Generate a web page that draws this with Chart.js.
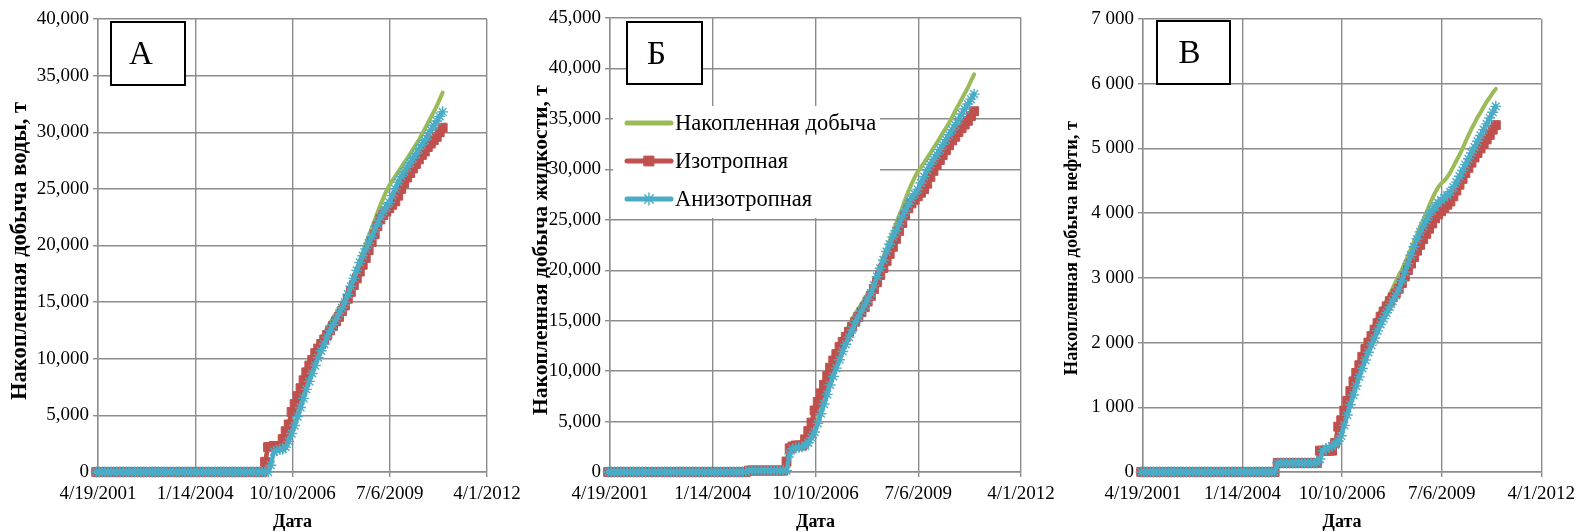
<!DOCTYPE html>
<html>
<head>
<meta charset="utf-8">
<script src="https://cdn.jsdelivr.net/npm/chart.js@4.4.1/dist/chart.umd.min.js"></script>
<style>
  html, body { margin: 0; padding: 0; background: #fff; }
  body { width: 1581px; height: 532px; position: relative; overflow: hidden; }
  canvas { position: absolute; top: 0; }
</style>
</head>
<body>
<canvas id="panelA" style="left:0px" width="530" height="532"></canvas>
<canvas id="panelB" style="left:525px" width="540" height="532"></canvas>
<canvas id="panelC" style="left:1058px" width="523" height="532"></canvas>
<script>
// Monthly report dates
const months = [
  '2001-04','2001-05','2001-06','2001-07','2001-08','2001-09','2001-10','2001-11','2001-12',
  '2002-01','2002-02','2002-03','2002-04','2002-05','2002-06','2002-07','2002-08','2002-09','2002-10','2002-11','2002-12',
  '2003-01','2003-02','2003-03','2003-04','2003-05','2003-06','2003-07','2003-08','2003-09','2003-10','2003-11','2003-12',
  '2004-01','2004-02','2004-03','2004-04','2004-05','2004-06','2004-07','2004-08','2004-09','2004-10','2004-11','2004-12',
  '2005-01','2005-02','2005-03','2005-04','2005-05','2005-06','2005-07','2005-08','2005-09','2005-10','2005-11','2005-12',
  '2006-01','2006-02','2006-03','2006-04','2006-05','2006-06','2006-07','2006-08','2006-09','2006-10','2006-11','2006-12',
  '2007-01','2007-02','2007-03','2007-04','2007-05','2007-06','2007-07','2007-08','2007-09','2007-10','2007-11','2007-12',
  '2008-01','2008-02','2008-03','2008-04','2008-05','2008-06','2008-07','2008-08','2008-09','2008-10','2008-11','2008-12',
  '2009-01','2009-02','2009-03','2009-04','2009-05','2009-06','2009-07','2009-08','2009-09','2009-10','2009-11','2009-12',
  '2010-01','2010-02','2010-03','2010-04','2010-05','2010-06','2010-07','2010-08','2010-09','2010-10','2010-11','2010-12',
  '2011-01'
];

const seriesNames = ['Накопленная добыча', 'Изотропная', 'Анизотропная'];

// А — cumulative water, t
const waterActual = [
  0,0,0,0,0,0,0,0,0,0, 0,0,0,0,0,0,0,0,0,0, 0,0,0,0,0,0,0,0,0,0, 0,0,0,0,0,0,0,0,0,0, 0,0,0,0,0,0,0,0,0,0,
  0,0,0,0,0,0,0,900,2200,2200,
  2300,2300,2300,2800,3300,3900,4600,5400,6200,7000,
  7800,8600,9300,10000,10600,11200,11700,12200,12700,13200,
  13600,14000,14400,14800,15200,15900,16600,17300,18000,18700,
  19400,20100,20800,21500,22200,22900,23600,24200,24800,25300,
  25700,26100,26500,26900,27300,27700,28100,28500,28900,29300,
  29800,30300,30800,31300,31800,32300,32900,33500
];
const waterIso = [
  0,0,0,0,0,0,0,0,0,0, 0,0,0,0,0,0,0,0,0,0, 0,0,0,0,0,0,0,0,0,0, 0,0,0,0,0,0,0,0,0,0, 0,0,0,0,0,0,0,0,0,0,
  0,0,0,0,0,0,0,900,2200,2200,
  2300,2300,2300,2900,3600,4200,5300,6000,6700,7400,
  8100,8800,9400,9900,10500,10900,11300,11700,12100,12500,
  12900,13300,13700,14200,14700,15300,15900,16500,17100,17700,
  18300,18900,19600,20300,21000,21700,22300,22700,23000,23300,
  23600,23900,24400,25000,25500,26000,26400,26800,27200,27600,
  28000,28300,28700,29000,29300,29600,30000,30400
];
const waterAniso = [
  0,0,0,0,0,0,0,0,0,0, 0,0,0,0,0,0,0,0,0,0, 0,0,0,0,0,0,0,0,0,0, 0,0,0,0,0,0,0,0,0,0, 0,0,0,0,0,0,0,0,0,0,
  0,0,0,0,0,0,0,0,0,600,
  1800,1900,2000,2000,2200,2700,3400,4100,4900,5700,
  6500,7300,8000,8700,9400,10100,10700,11300,11900,12500,
  13000,13500,14000,14500,15000,15700,16400,17100,17800,18500,
  19100,19700,20200,20800,21400,21900,22500,23000,23400,23800,
  24400,25000,25600,26100,26500,26900,27300,27700,28100,28500,
  28900,29300,29700,30200,30600,31000,31400,31800
];

// Б — cumulative liquid, t
const liquidActual = [
  0,0,0,0,0,0,0,0,0,0, 0,0,0,0,0,0,0,0,0,0, 0,0,0,0,0,0,0,0,0,0, 0,0,0,0,0,0,0,0,0,0,
  0,0,0,0,0,140,140,140,140,140,
  140,140,140,140,140,140,140,1040,2340,2530,
  2630,2630,2630,3130,3750,4550,5400,6360,7320,8280,
  9230,10170,11000,11830,12550,13260,13870,14480,15090,15690,
  16160,16650,17140,17640,18140,18940,19720,20530,21340,22150,
  22960,23770,24580,25390,26200,27010,27820,28520,29200,29760,
  30200,30660,31130,31620,32110,32600,33100,33600,34100,34600,
  35190,35780,36360,36940,37520,38090,38760,39420
];
const liquidIso = [
  0,0,0,0,0,0,0,0,0,0, 0,0,0,0,0,0,0,0,0,0, 0,0,0,0,0,0,0,0,0,0, 0,0,0,0,0,0,0,0,0,0,
  0,0,0,0,0,140,140,140,140,140,
  140,140,140,140,140,140,140,1040,2340,2530,
  2630,2630,2630,3230,4050,4900,6100,6950,7800,8650,
  9500,10330,11050,11680,12400,12900,13400,13900,14400,14900,
  15380,15860,16340,16900,17460,18130,18820,19520,20220,20920,
  21620,22320,23110,23900,24680,25460,26140,26620,26980,27330,
  27680,28030,28580,29260,29850,30440,30930,31420,31900,32380,
  32860,33230,33700,34070,34440,34810,35290,35760
];
const liquidAniso = [
  0,0,0,0,0,0,0,0,0,0, 0,0,0,0,0,0,0,0,0,0, 0,0,0,0,0,0,0,0,0,0, 0,0,0,0,0,0,0,0,0,0,
  0,0,0,0,0,140,140,140,140,140,
  140,140,140,140,140,140,140,140,1800,2300,
  2400,2450,2500,2600,2900,3400,3960,4820,5780,6740,
  7690,8630,9470,10300,11130,11950,12660,13370,14080,14780,
  15370,15960,16550,17140,17730,18520,19360,20190,21020,21850,
  22580,23300,23910,24600,25290,25870,26540,27100,27560,28000,
  28640,29280,29930,30500,30980,31470,31960,32450,32940,33430,
  33920,34410,34900,35490,35980,36470,36960,37450
];

// В — cumulative oil, t
const oilActual = [
  0,0,0,0,0,0,0,0,0,0, 0,0,0,0,0,0,0,0,0,0, 0,0,0,0,0,0,0,0,0,0, 0,0,0,0,0,0,0,0,0,0,
  0,0,0,0,0,140,140,140,140,140,
  140,140,140,140,140,140,140,140,140,330,
  330,330,330,330,450,650,800,960,1120,1280,
  1430,1570,1700,1830,1950,2060,2170,2280,2390,2490,
  2560,2650,2740,2840,2940,3040,3120,3230,3340,3450,
  3560,3670,3780,3890,4000,4110,4220,4320,4400,4460,
  4500,4560,4630,4720,4810,4900,5000,5100,5200,5300,
  5390,5480,5560,5640,5720,5790,5860,5920
];
const oilIso = [
  0,0,0,0,0,0,0,0,0,0, 0,0,0,0,0,0,0,0,0,0, 0,0,0,0,0,0,0,0,0,0, 0,0,0,0,0,0,0,0,0,0,
  0,0,0,0,0,140,140,140,140,140,
  140,140,140,140,140,140,140,140,140,330,
  330,330,330,330,450,700,800,950,1100,1250,
  1400,1530,1650,1780,1900,2000,2100,2200,2300,2400,
  2480,2560,2640,2700,2760,2830,2920,3020,3120,3220,
  3320,3420,3510,3600,3680,3760,3840,3920,3980,4030,
  4080,4130,4180,4260,4350,4440,4530,4620,4700,4780,
  4860,4930,5000,5070,5140,5210,5290,5360
];
const oilAniso = [
  0,0,0,0,0,0,0,0,0,0, 0,0,0,0,0,0,0,0,0,0, 0,0,0,0,0,0,0,0,0,0, 0,0,0,0,0,0,0,0,0,0,
  0,0,0,0,0,140,140,140,140,140,
  140,140,140,140,140,140,140,140,140,200,
  330,360,380,400,420,480,560,720,880,1040,
  1190,1330,1470,1600,1730,1850,1960,2070,2180,2280,
  2370,2460,2550,2640,2730,2820,2960,3090,3220,3350,
  3480,3600,3710,3800,3890,3970,4040,4100,4160,4200,
  4240,4280,4330,4400,4480,4570,4660,4750,4840,4930,
  5020,5110,5200,5290,5380,5470,5560,5650
];

// Axis ticks
const xTickLabels = ['4/19/2001', '1/14/2004', '10/10/2006', '7/6/2009', '4/1/2012'];
const yTicksWater = [0, 5000, 10000, 15000, 20000, 25000, 30000, 35000, 40000];
const yLabelsWater = ['0', '5,000', '10,000', '15,000', '20,000', '25,000', '30,000', '35,000', '40,000'];
const yTicksLiquid = [0, 5000, 10000, 15000, 20000, 25000, 30000, 35000, 40000, 45000];
const yLabelsLiquid = ['0', '5,000', '10,000', '15,000', '20,000', '25,000', '30,000', '35,000', '40,000', '45,000'];
const yTicksOil = [0, 1000, 2000, 3000, 4000, 5000, 6000, 7000];
const yLabelsOil = ['0', '1 000', '2 000', '3 000', '4 000', '5 000', '6 000', '7 000'];

const COLORS = { actual: '#9BBB59', iso: '#C0504D', aniso: '#4BACC6' };
const GRID = '#8c8c8c';
const SERIF = '"Liberation Serif", "Times New Roman", serif';

// Spreadsheet-style day number (1899-12-30 epoch)
function serialFromYMD(y, m, d) {
  return Date.UTC(y, m - 1, d) / 86400000 + 25569;
}
function serialFromMonth(s) {
  const [y, m] = s.split('-').map(Number);
  return serialFromYMD(y, m, 1);
}
function serialFromLabel(s) {
  const [m, d, y] = s.split('/').map(Number);
  return serialFromYMD(y, m, d);
}
const xTickValues = xTickLabels.map(serialFromLabel);
const monthSerials = months.map(serialFromMonth);

function points(values) {
  return values.map((v, i) => ({ x: monthSerials[i], y: v }));
}

function buildDatasets(actual, iso, aniso) {
  return [
    {
      label: seriesNames[0], data: points(actual), order: 2, clip: false,
      borderColor: COLORS.actual, backgroundColor: COLORS.actual,
      borderWidth: 4, pointRadius: 0, borderCapStyle: 'round', borderJoinStyle: 'round'
    },
    {
      label: seriesNames[1], data: points(iso), order: 1, clip: false,
      borderColor: COLORS.iso, backgroundColor: COLORS.iso,
      borderWidth: 4.5, pointStyle: 'rect', pointRadius: 6.3, pointBorderWidth: 1,
      pointBackgroundColor: COLORS.iso, pointBorderColor: COLORS.iso,
      borderCapStyle: 'round', borderJoinStyle: 'round'
    },
    {
      label: seriesNames[2], data: points(aniso), order: 0, clip: false,
      borderColor: COLORS.aniso, backgroundColor: COLORS.aniso,
      borderWidth: 4.5, pointStyle: 'star', pointRadius: 5.5, pointBorderWidth: 1.4,
      pointBackgroundColor: COLORS.aniso, pointBorderColor: COLORS.aniso,
      borderCapStyle: 'round', borderJoinStyle: 'round'
    }
  ];
}

// Letter tag in the upper-left corner of a panel
function letterPlugin(letter, box) {
  return {
    id: 'letterTag',
    afterDraw(chart) {
      const ctx = chart.ctx;
      ctx.save();
      ctx.fillStyle = '#fff';
      ctx.fillRect(box.x, box.y, box.w, box.h);
      ctx.strokeStyle = '#000';
      ctx.lineWidth = 2;
      ctx.strokeRect(box.x, box.y, box.w, box.h);
      ctx.fillStyle = '#000';
      ctx.font = '33px ' + SERIF;
      ctx.textAlign = 'center';
      ctx.textBaseline = 'middle';
      ctx.fillText(letter, box.x + box.w / 2 + box.dx, box.y + box.h / 2 + 2);
      ctx.restore();
    }
  };
}

// Rotated value-axis caption
function yCaptionPlugin(text, spec) {
  return {
    id: 'yCaption',
    afterDraw(chart) {
      const ctx = chart.ctx;
      ctx.save();
      ctx.translate(spec.x, spec.y);
      ctx.rotate(-Math.PI / 2);
      ctx.fillStyle = '#000';
      ctx.font = 'bold ' + spec.size + 'px ' + SERIF;
      ctx.textAlign = 'center';
      ctx.textBaseline = 'middle';
      ctx.fillText(text, 0, 0);
      ctx.restore();
    }
  };
}

// Series key with line samples and markers
function legendPlugin(area) {
  return {
    id: 'seriesKey',
    afterDraw(chart) {
      const ctx = chart.ctx;
      ctx.save();
      ctx.fillStyle = '#fff';
      ctx.fillRect(area.x, area.y, area.w, area.h);
      chart.data.datasets.forEach((ds, k) => {
        const y = area.rows[k];
        ctx.strokeStyle = ds.borderColor;
        ctx.lineWidth = 5;
        ctx.lineCap = 'round';
        ctx.beginPath();
        ctx.moveTo(area.lineX0, y);
        ctx.lineTo(area.lineX1, y);
        ctx.stroke();
        if (ds.pointRadius > 0) {
          ctx.fillStyle = ds.pointBackgroundColor;
          ctx.strokeStyle = ds.pointBorderColor;
          ctx.lineWidth = ds.pointBorderWidth;
          Chart.helpers.drawPoint(ctx, {
            pointStyle: ds.pointStyle, radius: ds.pointRadius * 1.1,
            borderWidth: ds.pointBorderWidth, rotation: 0
          }, (area.lineX0 + area.lineX1) / 2, y);
        }
        ctx.fillStyle = '#000';
        ctx.font = '22.5px ' + SERIF;
        ctx.textAlign = 'left';
        ctx.textBaseline = 'middle';
        ctx.fillText(ds.label, area.textX, y + 1);
      });
      ctx.restore();
    }
  };
}

function makePanel(canvasId, frame, datasets, yTicks, yLabels, extraPlugins) {
  const left = frame.canvasLeft;
  const width = document.getElementById(canvasId).width;
  return new Chart(document.getElementById(canvasId), {
    type: 'line',
    data: { datasets },
    options: {
      responsive: false,
      animation: false,
      events: [],
      layout: {
        padding: { left: 0, top: frame.plotTop, right: width - (frame.plotRight - left), bottom: 0 }
      },
      plugins: { legend: { display: false }, tooltip: { enabled: false } },
      scales: {
        x: {
          type: 'linear',
          min: xTickValues[0],
          max: xTickValues[xTickValues.length - 1],
          afterBuildTicks: s => { s.ticks = xTickValues.map(v => ({ value: v })); },
          afterFit: s => { s.height = 532 - frame.plotBottom; },
          ticks: {
            autoSkip: false, maxRotation: 0, padding: 6, color: '#000',
            font: { family: SERIF, size: 19 },
            callback: (v, i) => xTickLabels[i]
          },
          grid: { color: GRID, lineWidth: 1.4, tickLength: 5 },
          border: { color: GRID, width: 1.4 },
          title: {
            display: true, text: 'Дата', color: '#000',
            font: { family: SERIF, size: 18, weight: 'bold' },
            padding: { top: 0, bottom: -1 }
          }
        },
        y: {
          type: 'linear',
          min: yTicks[0],
          max: yTicks[yTicks.length - 1],
          afterBuildTicks: s => { s.ticks = yTicks.map(v => ({ value: v })); },
          afterFit: s => { s.width = frame.plotLeft - left; },
          ticks: {
            padding: 4, color: '#000',
            font: { family: SERIF, size: 19 },
            callback: (v, i) => yLabels[i]
          },
          grid: { color: GRID, lineWidth: 1.4, tickLength: 5 },
          border: { color: GRID, width: 1.4 }
        }
      },
      elements: { line: { tension: 0 } }
    },
    plugins: extraPlugins
  });
}

// Panel А — water
makePanel('panelA',
  { canvasLeft: 0, plotLeft: 98, plotRight: 487, plotTop: 19, plotBottom: 472 },
  buildDatasets(waterActual, waterIso, waterAniso),
  yTicksWater, yLabelsWater,
  [
    yCaptionPlugin('Накопленная добыча воды, т', { x: 20, y: 251, size: 22.5 }),
    letterPlugin('А', { x: 111, y: 22, w: 74, h: 63, dx: -7 })
  ]
);

// Panel Б — liquid
makePanel('panelB',
  { canvasLeft: 525, plotLeft: 610, plotRight: 1021, plotTop: 18, plotBottom: 472 },
  buildDatasets(liquidActual, liquidIso, liquidAniso),
  yTicksLiquid, yLabelsLiquid,
  [
    yCaptionPlugin('Накопленная добыча жидкости, т', { x: 541 - 525, y: 250, size: 21.5 }),
    letterPlugin('Б', { x: 627 - 525, y: 22, w: 75, h: 62, dx: -8 }),
    legendPlugin({
      x: 613 - 525, y: 106, w: 267, h: 112,
      lineX0: 627 - 525, lineX1: 671 - 525, textX: 675 - 525,
      rows: [123, 161, 199]
    })
  ]
);

// Panel В — oil
makePanel('panelC',
  { canvasLeft: 1058, plotLeft: 1143, plotRight: 1544, plotTop: 19, plotBottom: 472 },
  buildDatasets(oilActual, oilIso, oilAniso),
  yTicksOil, yLabelsOil,
  [
    yCaptionPlugin('Накопленная добыча нефти, т', { x: 1072 - 1058, y: 248, size: 18.5 }),
    letterPlugin('В', { x: 1157 - 1058, y: 21, w: 73, h: 63, dx: -4 })
  ]
);
</script>
</body>
</html>
